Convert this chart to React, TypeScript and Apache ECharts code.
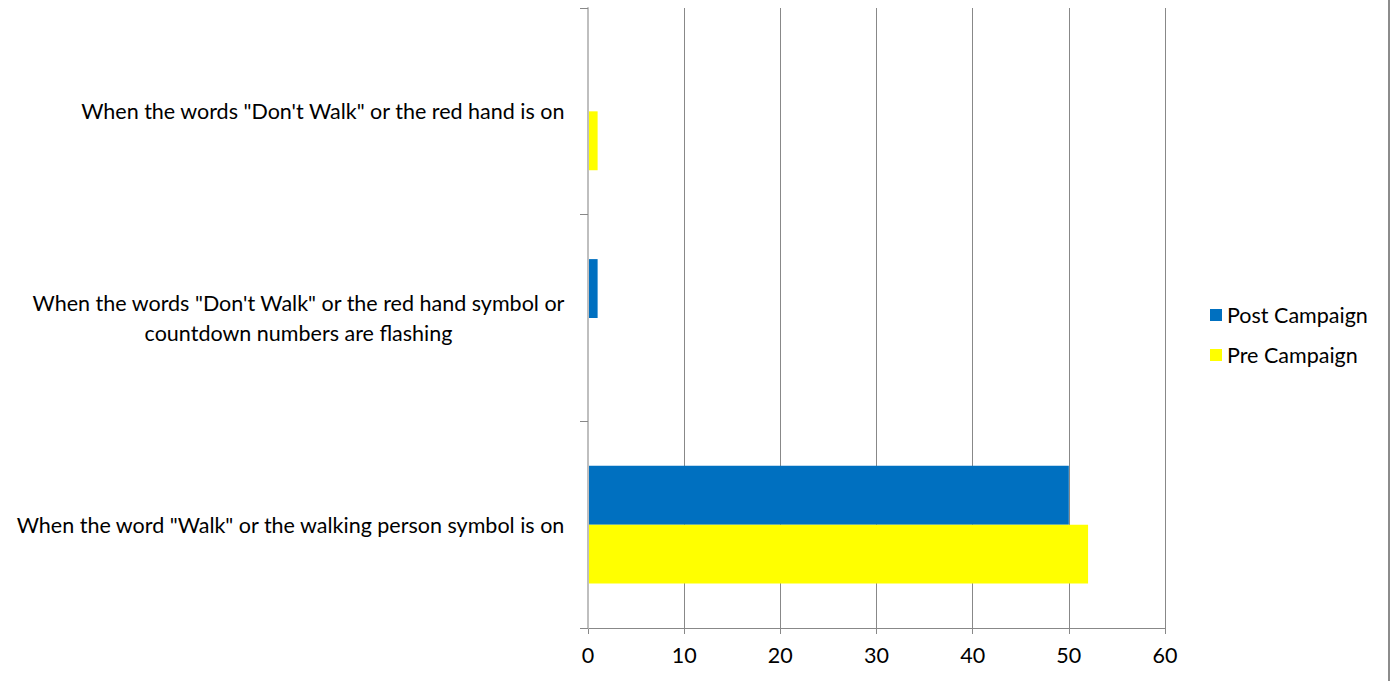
import React, { useEffect, useRef } from "react";
import * as echarts from "echarts";

const categories = [
  'When the word "Walk" or the walking person symbol is on',
  'When the words "Don\'t Walk" or the red hand symbol or\ncountdown numbers are flashing',
  'When the words "Don\'t Walk" or the red hand is on',
];
const seriesNames = ["Post Campaign", "Pre Campaign"];
const postValues = [50, 1, 0];
const preValues = [52, 0, 1];
const xTicks = { min: 0, max: 60, interval: 10 };

const FONT = "Lato";
const FS = 21.5;

export default function App() {
  const ref = useRef<HTMLDivElement>(null);
  useEffect(() => {
    if (!ref.current) return;
    const chart = echarts.init(ref.current, null, { renderer: "svg" });
    chart.setOption({
      animation: false,
      backgroundColor: "#ffffff",
      grid: { left: 588, right: 228, top: 8, bottom: 53, containLabel: false },
      legend: {
        orient: "vertical",
        left: 1205,
        top: 299,
        itemWidth: 12,
        itemHeight: 12,
        itemGap: 18,
        icon: "rect",
        data: seriesNames,
        textStyle: { fontFamily: FONT, fontSize: FS, color: "#000", lineHeight: 22 },
      },
      xAxis: {
        type: "value",
        min: xTicks.min,
        max: xTicks.max,
        interval: xTicks.interval,
        axisLine: { show: true, lineStyle: { color: "#888888", width: 1 } },
        axisTick: { show: true, length: 6, lineStyle: { color: "#888888" } },
        splitLine: { show: true, lineStyle: { color: "#888888", width: 1 } },
        axisLabel: { margin: 16, fontFamily: FONT, fontSize: FS, color: "#000" },
      },
      yAxis: {
        type: "category",
        data: categories,
        z: 3,
        axisLine: { show: true, lineStyle: { color: "#BFBFBF", width: 2 } },
        axisTick: { show: true, length: 8, lineStyle: { color: "#888888" } },
        splitLine: { show: false },
        axisLabel: {
          margin: 23,
          fontFamily: FONT,
          fontSize: FS,
          color: "#000",
          lineHeight: 30,
          formatter: (v: string) =>
            v
              .split("\n")
              .map((l) => `{c|${l}}`)
              .join("\n"),
          rich: {
            c: { align: "center", fontFamily: FONT, fontSize: FS, lineHeight: 30, color: "#000" },
          },
        },
      },
      series: [
        {
          name: seriesNames[0],
          type: "bar",
          data: postValues,
          itemStyle: { color: "#0070C0" },
          barGap: "0%",
          barCategoryGap: "43%",
        },
        {
          name: seriesNames[1],
          type: "bar",
          data: preValues,
          itemStyle: { color: "#FFFF00" },
          barGap: "0%",
          barCategoryGap: "43%",
        },
      ],
      graphic: [
        {
          type: "line",
          shape: { x1: 1389, y1: 0, x2: 1389, y2: 681 },
          style: { stroke: "#8c8c8c", lineWidth: 2 },
        },
      ],
    });
    return () => chart.dispose();
  }, []);
  return (
    <div
      ref={ref}
      style={{ position: "absolute", left: 0, top: 0, width: 1393, height: 681 }}
    />
  );
}
